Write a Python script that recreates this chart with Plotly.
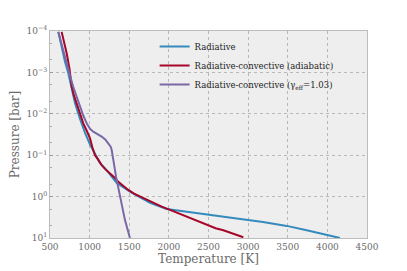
import plotly.graph_objects as go

# Radiative profile
rad_T = [605, 650, 690, 731, 775, 815, 880, 942, 1005, 1068, 1131, 1215, 1342, 1509, 1640, 1762, 1972,
         2225, 2519, 2809, 3188, 3487, 3739, 3991, 4159]
rad_P = [1.05e-4, 2.6e-4, 5.6e-4, 1.05e-3, 2.6e-3, 5.5e-3, 1.35e-2, 2.9e-2, 5.5e-2, 8.9e-2, 0.155, 0.23,
         0.47, 0.76, 1.05, 1.41, 2.0, 2.3, 2.75, 3.3, 4.1, 5.1, 6.5, 8.5, 10.0]

# Radiative-convective (adiabatic)
adi_T = [647, 680, 711, 745, 774, 800, 837, 880, 920, 965, 1005, 1035, 1068, 1110, 1152, 1200, 1257,
         1310, 1362, 1420, 1488, 1560, 1636, 1720, 1804, 1910, 2014, 2120, 2225, 2350, 2477, 2590,
         2687, 2813, 2939]
adi_P = [1.05e-4, 1.9e-4, 3.5e-4, 8.0e-4, 2.2e-3, 3.5e-3, 5.6e-3, 1.05e-2, 1.7e-2, 2.6e-2, 3.9e-2,
         6.5e-2, 0.10, 0.13, 0.174, 0.22, 0.275, 0.34, 0.44, 0.55, 0.69, 0.85, 1.0, 1.2, 1.45, 1.75,
         2.1, 2.55, 3.1, 3.8, 4.9, 5.8, 6.5, 7.9, 9.6]

# Radiative-convective (gamma_eff = 1.03)
gam_T = [605, 660, 711, 750, 794, 840, 879, 920, 963, 1005, 1046, 1100, 1152, 1200, 1236, 1265, 1278,
         1290, 1299, 1333, 1383, 1446, 1509]
gam_P = [1.05e-4, 2.7e-4, 6.0e-4, 1.15e-3, 2.25e-3, 4.0e-3, 6.8e-3, 1.1e-2, 1.7e-2, 2.3e-2, 2.7e-2,
         3.1e-2, 3.55e-2, 4.2e-2, 5.1e-2, 6.2e-2, 7.4e-2, 9.5e-2, 0.13, 0.33, 1.0, 3.7, 10.0]

y_tickvals = [1e-4, 1e-3, 1e-2, 1e-1, 1e0, 1e1]
y_ticktext = ["10<sup>\u22124</sup>", "10<sup>\u22123</sup>", "10<sup>\u22122</sup>",
              "10<sup>\u22121</sup>", "10<sup>0</sup>", "10<sup>1</sup>"]
x_tickvals = [500, 1000, 1500, 2000, 2500, 3000, 3500, 4000, 4500]

FONT = "DejaVu Serif, serif"
TXT = "#6b6b6b"

fig = go.Figure()
fig.add_trace(go.Scatter(x=rad_T, y=rad_P, mode="lines", name="Radiative",
                         line=dict(color="#348ABD", width=2)))
fig.add_trace(go.Scatter(x=adi_T, y=adi_P, mode="lines", name="Radiative-convective (adiabatic)",
                         line=dict(color="#A60628", width=2)))
fig.add_trace(go.Scatter(x=gam_T, y=gam_P, mode="lines",
                         name="Radiative-convective (\u03b3<sub>eff</sub>=1.03)",
                         line=dict(color="#7A68A6", width=2)))

fig.update_layout(
    width=407, height=271,
    margin=dict(l=50, r=40, t=31, b=33),
    paper_bgcolor="white",
    plot_bgcolor="#eeeeee",
    font=dict(family=FONT, size=9, color=TXT),
    showlegend=True,
    legend=dict(x=0.33, y=0.995, xanchor="left", yanchor="top",
                bgcolor="rgba(0,0,0,0)", font=dict(family=FONT, size=8.5, color="#222"),
                itemwidth=30, tracegroupgap=0),
)
fig.update_xaxes(
    range=[500, 4500], tickvals=x_tickvals, ticks="", automargin=False,
    showgrid=True, gridcolor="#b8b8b8", griddash="dot", gridwidth=1,
    showline=True, linecolor="#bcbcbc", linewidth=1, mirror=True, zeroline=False,
    title=dict(text="Temperature [K]", font=dict(family=FONT, size=12, color=TXT), standoff=2),
    tickfont=dict(family=FONT, size=9, color=TXT),
)
fig.update_yaxes(
    type="log", range=[1, -4], tickvals=y_tickvals, ticktext=y_ticktext, automargin=False,
    ticks="inside", ticklen=3, tickcolor="#999",
    minor=dict(ticks="inside", ticklen=2, tickcolor="#aaa", showgrid=False),
    showgrid=True, gridcolor="#b8b8b8", griddash="dot", gridwidth=1,
    showline=True, linecolor="#bcbcbc", linewidth=1, mirror=True, zeroline=False,
    title=dict(text="Pressure [bar]", font=dict(family=FONT, size=12, color=TXT), standoff=4),
    tickfont=dict(family=FONT, size=9, color=TXT),
)

fig.write_html("out.html", config={"displayModeBar": False},
               post_script="document.body.style.margin='0';document.body.style.overflow='hidden';")
